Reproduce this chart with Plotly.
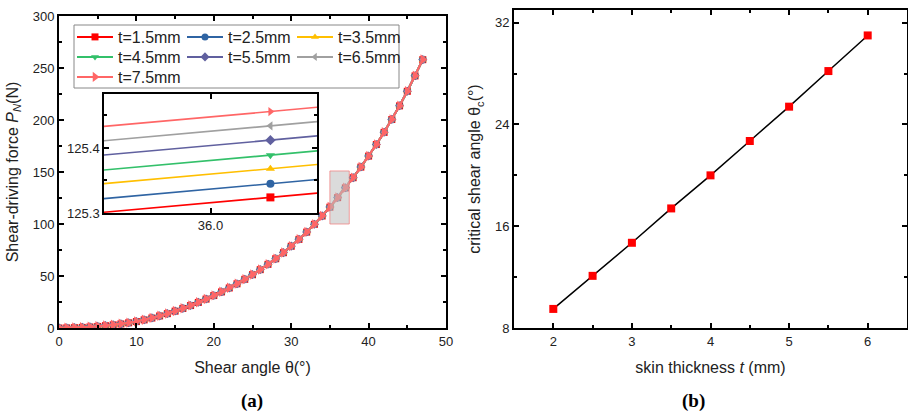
import plotly.graph_objects as go

# ---- panel (a): shear-driving force vs shear angle ----
theta = list(range(48))  # shear angle (deg)

# force for t=1.5mm (N)
p_t15 = [0.0, 0.1, 0.3, 0.6, 1.0, 1.5, 2.2, 3.0, 3.9, 5.0,
         6.2, 7.8, 9.6, 11.6, 13.8, 16.2, 18.8, 21.6, 24.6, 27.8,
         31.2, 34.7, 38.5, 42.5, 46.8, 51.3, 56.1, 61.2, 66.6, 72.4,
         78.6, 85.2, 92.2, 99.7, 107.7, 116.2, 125.324, 134.7, 144.5, 154.7,
         165.3, 176.4, 188.1, 200.5, 213.6, 227.6, 242.4, 258.0]

thickness_labels = ["t=1.5mm", "t=2.5mm", "t=3.5mm", "t=4.5mm",
                    "t=5.5mm", "t=6.5mm", "t=7.5mm"]
# force of each thickness at theta = 36 deg (N)
p_at_36 = [125.324, 125.345, 125.368, 125.389, 125.412, 125.434, 125.456]

series_colors = ["#FF0000", "#2F64A3", "#FFBF00", "#33C06A",
                 "#60609F", "#A0A0A0", "#FF6666"]
series_symbols = ["square", "circle", "triangle-up", "triangle-down",
                  "diamond", "triangle-left", "triangle-right"]
main_marker_sizes = [7, 7, 7, 7, 7, 7, 9]
# one legend per row: three entries, three entries, one entry
legend_rows = ["legend", "legend", "legend", "legend2",
               "legend2", "legend2", "legend3"]

# ---- panel (b): critical shear angle vs skin thickness ----
skin_t = [2.0, 2.5, 3.0, 3.5, 4.0, 4.5, 5.0, 5.5, 6.0]
theta_c = [9.5, 12.1, 14.7, 17.4, 20.0, 22.7, 25.4, 28.2, 31.0]

W, H = 908, 415


def px_x(v):
    return v / W


def px_y(v):
    return 1 - v / H


fig = go.Figure()

for i, lab in enumerate(thickness_labels):
    shift = p_at_36[i] - p_at_36[0]
    yvals = [p + shift for p in p_t15]
    fig.add_trace(go.Scatter(
        x=theta, y=yvals, name=lab, mode="lines+markers",
        line=dict(color=series_colors[i], width=2),
        marker=dict(symbol=series_symbols[i], size=main_marker_sizes[i],
                    color=series_colors[i]),
        xaxis="x", yaxis="y", legend=legend_rows[i]))

# zoomed inset around theta = 36
for i, lab in enumerate(thickness_labels):
    shift = p_at_36[i] - p_at_36[0]
    yvals = [p + shift for p in p_t15]
    fig.add_trace(go.Scatter(
        x=theta, y=yvals, name=lab, mode="lines+markers", showlegend=False,
        line=dict(color=series_colors[i], width=1.6),
        marker=dict(symbol=series_symbols[i], size=8, color=series_colors[i]),
        xaxis="x3", yaxis="y3"))

fig.add_trace(go.Scatter(
    x=skin_t, y=theta_c, mode="lines+markers", showlegend=False,
    line=dict(color="black", width=1.5),
    marker=dict(symbol="square", size=8, color="#FF0000"),
    xaxis="x2", yaxis="y2"))

tickfont = dict(family="Liberation Sans, Arial", size=13, color="#222")
titlefont = dict(family="Liberation Sans, Arial", size=16, color="#222")
legfont = dict(family="Liberation Sans, Arial", size=16, color="#222")


def frame_axis(**kw):
    base = dict(showline=True, linecolor="black", linewidth=2, mirror="allticks",
                ticks="inside", ticklen=5, tickwidth=1.5, tickcolor="black",
                showgrid=False, zeroline=False, tickfont=tickfont, automargin=False,
                minor=dict(ticks="inside", ticklen=3, tickwidth=1.5,
                           tickcolor="black", showgrid=False))
    base.update(kw)
    return base


def row_legend(ycenter):
    return dict(orientation="h", x=px_x(72), y=px_y(ycenter),
                xanchor="left", yanchor="middle",
                entrywidth=59, entrywidthmode="pixels", itemwidth=36,
                bgcolor="rgba(0,0,0,0)", borderwidth=0, font=legfont)


fig.update_layout(
    width=W, height=H,
    margin=dict(l=0, r=0, t=0, b=0, autoexpand=False),
    paper_bgcolor="white", plot_bgcolor="white",
    xaxis=frame_axis(domain=[px_x(59), px_x(446)], range=[0, 50],
                     dtick=10, tick0=0, minor_dtick=5, anchor="y",
                     title=dict(text="Shear angle θ(°)", font=titlefont, standoff=14)),
    yaxis=frame_axis(domain=[px_y(328), px_y(16)], range=[0, 300],
                     dtick=50, tick0=0, minor_dtick=25, anchor="x",
                     title=dict(text="Shear-driving force <i>P</i><sub><i>N</i></sub>(N)",
                                font=titlefont, standoff=10)),
    xaxis2=frame_axis(domain=[px_x(514), px_x(907)], range=[1.5, 6.5],
                      dtick=1, tick0=2, minor_dtick=0.5, anchor="y2",
                      title=dict(text="skin thickness <i>t</i> (mm)", font=titlefont, standoff=14)),
    yaxis2=frame_axis(domain=[px_y(328), px_y(10)], range=[8, 33],
                      dtick=8, tick0=8, minor_dtick=4, anchor="x2",
                      title=dict(text="critical shear angle θ<sub>c</sub>(°)",
                                 font=titlefont, standoff=10)),
    xaxis3=frame_axis(domain=[px_x(104), px_x(317)], range=[35.9975, 36.0007],
                      tick0=35.9991, dtick=0.01, tickformat=".1f", anchor="y3",
                      linewidth=1.5, minor=dict(ticks="")),
    yaxis3=frame_axis(domain=[px_y(213), px_y(94)], range=[125.3, 125.483],
                      tick0=125.3, dtick=0.1, tickformat=".1f", minor_dtick=0.05,
                      anchor="x3", linewidth=1.5),
    legend=row_legend(37),
    legend2=row_legend(57),
    legend3=row_legend(77),
    shapes=[
        # legend frame
        dict(type="rect", xref="paper", yref="paper",
             x0=px_x(74), x1=px_x(399), y0=px_y(88), y1=px_y(25),
             line=dict(color="#888", width=1), fillcolor="rgba(0,0,0,0)"),
        # highlighted region of the zoomed inset
        dict(type="rect", xref="x", yref="y", x0=35.0, x1=37.5, y0=100, y1=151,
             layer="above", line=dict(color="rgba(240,120,120,0.7)", width=1),
             fillcolor="rgba(190,190,190,0.55)"),
    ],
    annotations=[
        dict(text="<b>(a)</b>", x=px_x(252), y=px_y(401), xref="paper", yref="paper",
             xanchor="center", yanchor="middle", showarrow=False,
             font=dict(family="Liberation Serif, Times New Roman", size=19, color="black")),
        dict(text="<b>(b)</b>", x=px_x(693), y=px_y(401), xref="paper", yref="paper",
             xanchor="center", yanchor="middle", showarrow=False,
             font=dict(family="Liberation Serif, Times New Roman", size=19, color="black")),
    ],
)

fig.write_html("out.html")
